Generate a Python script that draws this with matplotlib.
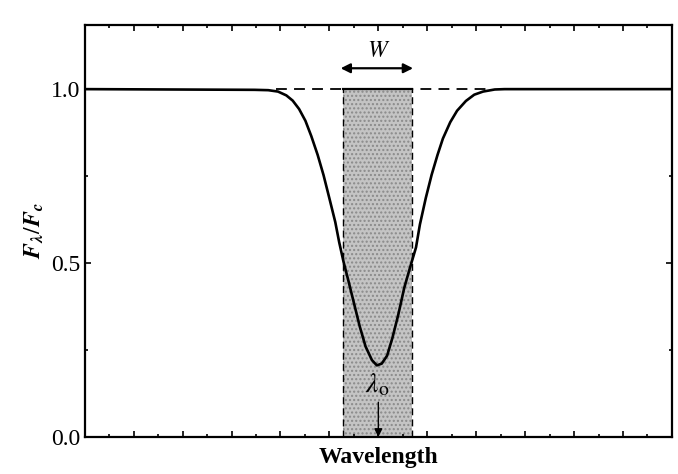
import matplotlib.pyplot as plt
from matplotlib.patches import Rectangle

plt.rcParams['font.family'] = ['Liberation Serif', 'DejaVu Serif']
plt.rcParams['mathtext.fontset'] = 'stix'

# absorption line profile (x in tick units, y = F_lambda/F_c)
wavelength = [0.0, 3.47, 3.75, 3.95, 4.12, 4.25, 4.38, 4.51, 4.63, 4.76, 4.88,
              5.00, 5.12, 5.20, 5.29, 5.38, 5.50, 5.62, 5.74, 5.87, 5.97, 6.07,
              6.18, 6.29, 6.41, 6.53, 6.65, 6.77, 6.85, 6.97, 7.09, 7.21, 7.32,
              7.47, 7.61, 7.79, 7.96, 8.14, 8.38, 8.58, 12.0]
flux = [1.0, 0.998, 0.997, 0.993, 0.982, 0.967, 0.943, 0.909, 0.865, 0.811, 0.753,
        0.686, 0.618, 0.560, 0.503, 0.454, 0.386, 0.318, 0.260, 0.221, 0.206, 0.211,
        0.234, 0.286, 0.353, 0.429, 0.488, 0.545, 0.611, 0.687, 0.754, 0.811, 0.858,
        0.905, 0.938, 0.966, 0.984, 0.993, 0.999, 1.0, 1.0]

# equivalent width box and line centre
box_left = 5.28
box_right = 6.69
continuum = 1.0
line_centre = 6.0
dash_start = 3.9
dash_end = 8.2

fig = plt.figure(figsize=(6.78, 4.74), dpi=100)
ax = fig.add_axes([0.125, 0.078, 0.866, 0.869])

# shaded rectangle with the same area as the line
ax.add_patch(Rectangle((box_left, 0), box_right - box_left, continuum,
                       facecolor='#c4c4c4', edgecolor='#8a8a8a', hatch='....',
                       linewidth=0, zorder=1))
ax.plot([box_left, box_left], [0, continuum], color='black', lw=1.0,
        ls=(0, (5, 3)), zorder=2)
ax.plot([box_right, box_right], [0, continuum], color='black', lw=1.0,
        ls=(0, (5, 3)), zorder=2)
ax.plot([box_left, box_right], [continuum, continuum], color='black', lw=1.6, zorder=2)

# continuum across the line
ax.plot([dash_start, dash_end], [continuum, continuum], color='black', lw=1.3,
        ls=(0, (6, 4)), zorder=2)

# profile
ax.plot(wavelength, flux, color='black', lw=1.9, zorder=3, solid_joinstyle='round')

# W arrow and label
ax.annotate('', xy=(box_left - 0.05, 1.06), xytext=(box_right + 0.02, 1.06),
            arrowprops=dict(arrowstyle='<|-|>', color='black', lw=1.6,
                            mutation_scale=14, shrinkA=0, shrinkB=0))
ax.text(line_centre, 1.108, r'$W$', ha='center', va='center', fontsize=17)

# lambda_0 label and arrow
ax.text(line_centre - 0.03, 0.15, r'$\lambda_{\mathrm{o}}$', ha='center', va='center',
        fontsize=20)
ax.annotate('', xy=(line_centre, 0.0), xytext=(line_centre, 0.1),
            arrowprops=dict(arrowstyle='-|>', color='black', lw=1.0,
                            mutation_scale=12, shrinkA=0, shrinkB=0))

ax.set_xlim(0, 12)
ax.set_ylim(0, 1.184)
ax.set_xticks(range(0, 13))
ax.set_xticks([i + 0.5 for i in range(12)], minor=True)
ax.set_xticklabels([])
ax.set_yticks([0.0, 0.5, 1.0])
ax.set_yticks([0.25, 0.75], minor=True)
ax.set_yticklabels(['0.0', '0.5', '1.0'])
ax.tick_params(which='both', direction='in', top=True, right=True, width=1.2)
ax.tick_params(which='major', length=4, labelsize=17, pad=3)
ax.tick_params(which='minor', length=2.5)
for s in ax.spines.values():
    s.set_linewidth(1.6)

ax.set_xlabel('Wavelength', fontsize=17, fontweight='bold', labelpad=4)
ax.set_ylabel(r'$\mathbfit{F}_{\mathbfit{\lambda}}/\mathbfit{F}_{\mathbfit{c}}$',
              fontsize=17, labelpad=4)

plt.savefig('out.png', dpi=100)
